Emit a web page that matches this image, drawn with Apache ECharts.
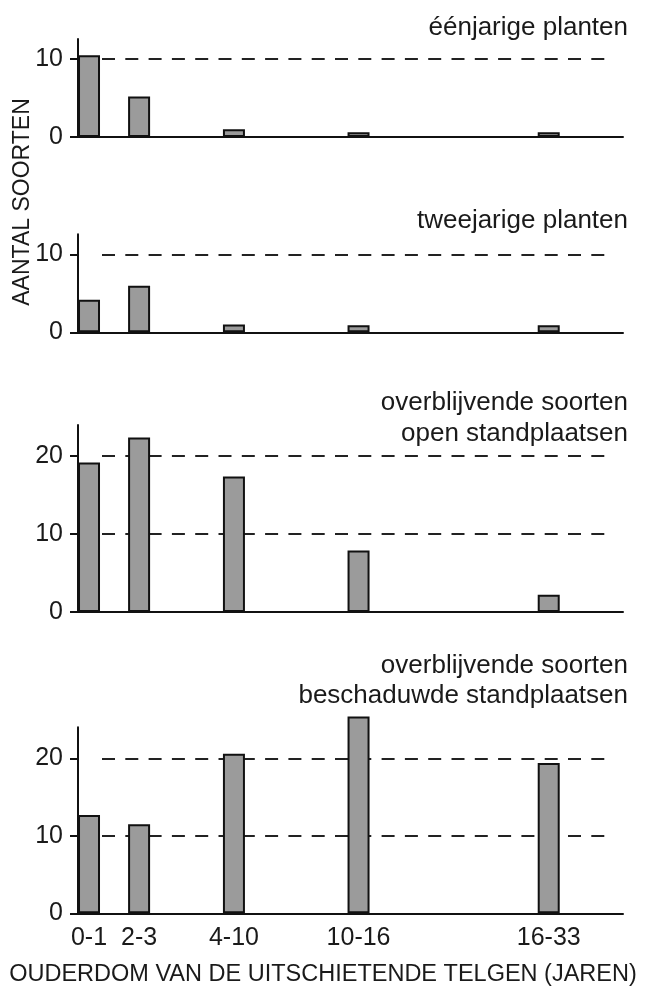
<!DOCTYPE html>
<html>
<head>
<meta charset="utf-8">
<script src="https://cdn.jsdelivr.net/npm/echarts@6/dist/echarts.min.js"></script>
<style>
html,body{margin:0;padding:0;background:#fff;}
#chart{width:646px;height:987px;}
</style>
</head>
<body>
<div id="chart"></div>
<script>
// Age classes (years) and their place on the (non-linear) age axis
const ageClasses = ['0-1', '2-3', '4-10', '10-16', '16-33'];
const agePositions = [0, 2.07, 5.99, 11.14, 19.0];

// Number of species per panel
const annualValues = [10.5, 5.2, 1.0, 0.6, 0.6];
const biennialValues = [4.2, 6.0, 1.0, 0.9, 0.9];
const perennialOpenValues = [19.2, 22.4, 17.4, 7.9, 2.2];
const perennialShadedValues = [12.7, 11.5, 20.6, 25.4, 19.4];

// Panel titles
const panelTitles = [
  ['éénjarige planten'],
  ['tweejarige planten'],
  ['overblijvende soorten', 'open standplaatsen'],
  ['overblijvende soorten', 'beschaduwde standplaatsen']
];

// Y-axis ticks / ranges
const yTicksSmall = [0, 10];
const yTicksLarge = [0, 10, 20];
const yAxisMax = [12.6, 12.6, 24, 24];
const yGridMax = [10, 10, 20, 20];

const xAxisTitle = 'OUDERDOM VAN DE UITSCHIETENDE TELGEN (JAREN)';
const yAxisTitle = 'AANTAL SOORTEN';

const panelValues = [annualValues, biennialValues, perennialOpenValues, perennialShadedValues];
const panelTicks = [yTicksSmall, yTicksSmall, yTicksLarge, yTicksLarge];

// layout (pixels)
const baselines = [137, 332.3, 612, 913.3];
const tops = [39, 234.3, 425, 727.3];
const titleY = [[28], [221], [403, 433.5], [666, 696]];

const FONT = '"Liberation Sans", Arial, sans-serif';
const TXT = '#1a1a1a';

const chart = echarts.init(document.getElementById('chart'), null, {renderer: 'canvas'});

const grid = [], xAxis = [], yAxis = [], series = [], graphic = [];
const xMin = -0.455, xMax = 22.07;

for (let p = 0; p < 4; p++) {
  const h = baselines[p] - tops[p];
  // grid for dashed reference lines
  const hB = h * yGridMax[p] / yAxisMax[p];
  grid.push({left: 102, right: 33, top: baselines[p] - hB, height: hB});
  xAxis.push({gridIndex: grid.length - 1, type: 'value', min: xMin, max: xMax, show: false});
  yAxis.push({
    gridIndex: grid.length - 1, type: 'value', min: 0, max: yGridMax[p], interval: 10,
    axisLine: {show: false}, axisTick: {show: false}, axisLabel: {show: false},
    splitLine: {show: true, showMinLine: false, lineStyle: {color: '#222', width: 1.8, type: [13, 10.3]}}
  });
  // main grid
  grid.push({left: 78, right: 23, top: tops[p], height: h});
  const gi = grid.length - 1;
  const isBottom = p === 3;
  xAxis.push({
    gridIndex: gi, type: 'value', min: xMin, max: xMax, z: 3,
    axisLine: {show: true, onZero: true, lineStyle: {color: '#111', width: 2}},
    axisTick: {show: false},
    splitLine: {show: false},
    axisLabel: isBottom ? {
      show: true, customValues: agePositions, margin: 12,
      fontFamily: FONT, fontSize: 25, color: TXT,
      formatter: (v) => {
        let best = 0;
        agePositions.forEach((x, i) => { if (Math.abs(x - v) < Math.abs(agePositions[best] - v)) best = i; });
        return ageClasses[best];
      }
    } : {show: false}
  });
  yAxis.push({
    gridIndex: gi, type: 'value', min: 0, max: yAxisMax[p], interval: 10, z: 3,
    axisLine: {show: true, onZero: false, lineStyle: {color: '#111', width: 2}},
    axisTick: {show: true, inside: false, length: 8, customValues: panelTicks[p], lineStyle: {color: '#111', width: 2}},
    axisLabel: {show: true, customValues: panelTicks[p], margin: 15, fontFamily: FONT, fontSize: 25, color: TXT},
    splitLine: {show: false}
  });
  series.push({
    type: 'bar', xAxisIndex: xAxis.length - 1, yAxisIndex: yAxis.length - 1,
    barWidth: 22, clip: false, z: 2,
    itemStyle: {color: '#9b9b9b', borderColor: '#111', borderWidth: 2},
    data: agePositions.map((x, i) => [x, panelValues[p][i]]),
    silent: true
  });
  panelTitles[p].forEach((t, k) => {
    graphic.push({
      type: 'text', right: 646 - 628, top: titleY[p][k] - 13,
      style: {text: t, font: '26px ' + FONT, fill: TXT, textAlign: 'right'}
    });
  });
}

graphic.push({
  type: 'text', x: 323, y: 975,
  style: {text: xAxisTitle, font: '23.5px ' + FONT, fill: TXT, textAlign: 'center', textVerticalAlign: 'middle'}
});
graphic.push({
  type: 'text', x: 23, y: 202, rotation: Math.PI / 2,
  style: {text: yAxisTitle, font: '23px ' + FONT, fill: TXT, textAlign: 'center', textVerticalAlign: 'middle'}
});

chart.setOption({
  animation: false,
  backgroundColor: '#fff',
  grid, xAxis, yAxis, series, graphic
});
</script>
</body>
</html>
